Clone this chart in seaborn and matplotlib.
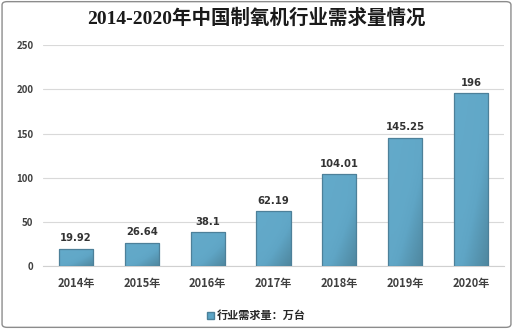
import matplotlib
matplotlib.use("Agg")
import matplotlib.pyplot as plt
import seaborn as sns
import pandas as pd
import numpy as np
from matplotlib.patches import FancyBboxPatch, Patch
from matplotlib.colors import LinearSegmentedColormap

years = ["2014年", "2015年", "2016年", "2017年", "2018年", "2019年", "2020年"]
demand = [19.92, 26.64, 38.1, 62.19, 104.01, 145.25, 196]
labels = ["19.92", "26.64", "38.1", "62.19", "104.01", "145.25", "196"]
series_name = "行业需求量：万台"
title = "2014-2020年中国制氧机行业需求量情况"

sns.set_theme(style="white")
plt.rcParams['font.family'] = ['Noto Sans CJK SC', 'DejaVu Sans']

df = pd.DataFrame({"year": years, "value": demand})

fig = plt.figure(figsize=(5.13, 3.29), dpi=100)
ax = fig.add_axes([0.084, 0.191, 0.898, 0.672])

sns.barplot(data=df, x="year", y="value", ax=ax, color="#62a8c8",
            width=0.52, edgecolor="#4d8099", linewidth=0.9, zorder=3)

cmap = LinearSegmentedColormap.from_list("g", ["#66adcd", "#5fa5c5", "#4f879f"])
gx, gy = np.meshgrid(np.linspace(0, 1, 40), np.linspace(0, 1, 40))
g = np.clip((gx * 0.5 + gy * 0.5 - 0.5) * 2.0, 0, 1)
g = 0.35 + 0.65 * g - 0.35 * (1 - gy) * (1 - gx) * 0.5
g = np.clip(g, 0, 1)
for p in ax.patches:
    x0, y0 = p.get_x(), p.get_y()
    w, h = p.get_width(), p.get_height()
    im = ax.imshow(g, cmap=cmap, extent=(x0, x0 + w, y0, y0 + h), origin="upper",
                   aspect="auto", zorder=3.5, vmin=0, vmax=1)
    im.set_clip_path(p)
    p.set_facecolor("none")
    p.set_zorder(4)

for p, lab in zip(ax.patches, labels):
    ax.text(p.get_x() + p.get_width() / 2, p.get_height() + 6, lab,
            ha="center", va="bottom", fontsize=7.2, fontweight="bold", color="#333333",
            family=['DejaVu Sans'])

ax.set_xlim(-0.5, len(years) - 0.5)
ax.set_ylim(0, 250)
ax.set_yticks([0, 50, 100, 150, 200, 250])
ax.yaxis.grid(True, color="#d9d9d9", linewidth=0.8, zorder=0)
ax.set_axisbelow(True)
for s in ["top", "right", "left"]:
    ax.spines[s].set_visible(False)
ax.spines["bottom"].set_color("#d0d0d0")
ax.spines["bottom"].set_linewidth(0.8)
ax.set_xlabel("")
ax.set_ylabel("")
ax.tick_params(axis="x", length=0, labelsize=8, labelcolor="#404040", pad=8)
ax.tick_params(axis="y", length=0, labelsize=7, labelcolor="#404040", pad=7)
for t in ax.get_xticklabels() + ax.get_yticklabels():
    t.set_fontweight("bold")

fig.text(0.5, 0.945, title, ha="center", va="center", fontsize=14,
         fontweight="bold", color="#1a1a1a",
         family=['Liberation Serif', 'Noto Sans CJK SC'])

handle = Patch(facecolor="#5ba5c6", edgecolor="#4a8099")
fig.legend([handle], [series_name], loc="center", bbox_to_anchor=(0.5, 0.04),
           frameon=False, prop={"size": 8, "weight": "bold"}, handlelength=0.6,
           handleheight=0.6, handletextpad=0.3)

border = FancyBboxPatch((0.004, 0.005), 0.992, 0.99, boxstyle="round,pad=0,rounding_size=0.01",
                        transform=fig.transFigure, fill=False, edgecolor="#8c8c8c", linewidth=1)
fig.patches.append(border)

fig.savefig("out.png", dpi=100)
